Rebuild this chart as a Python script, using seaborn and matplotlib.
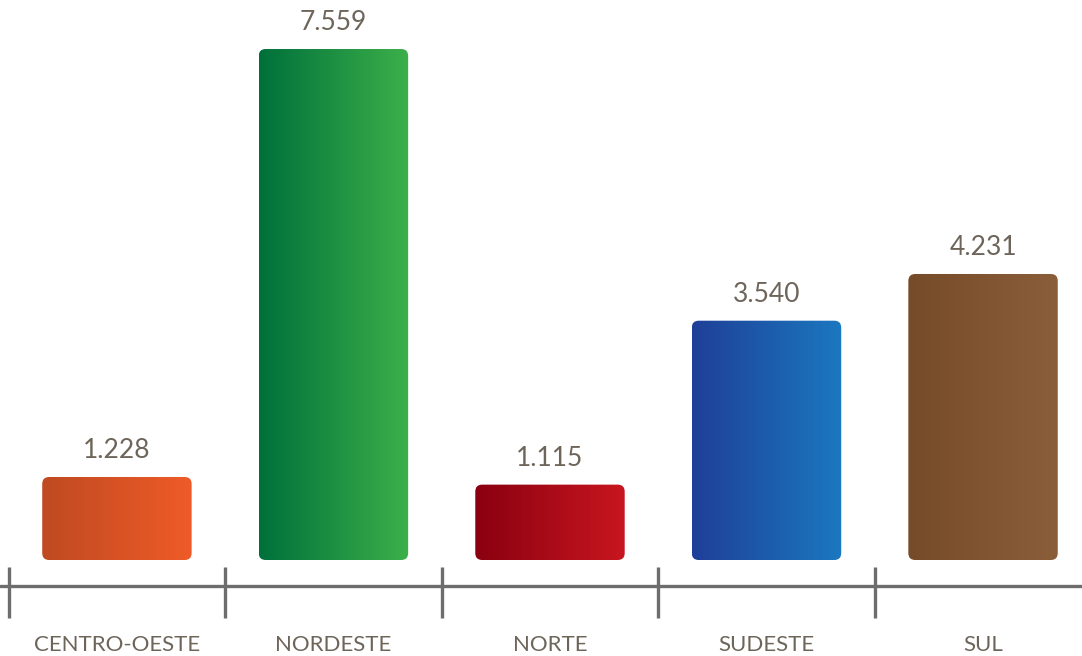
import numpy as np
import pandas as pd
import matplotlib
matplotlib.use("Agg")
import matplotlib.pyplot as plt
from matplotlib.colors import LinearSegmentedColormap
from matplotlib.patches import FancyBboxPatch
import seaborn as sns

sns.set_theme(style="white")
plt.rcParams['font.family'] = ['Lato', 'DejaVu Sans']

# data
regioes = ["CENTRO-OESTE", "NORDESTE", "NORTE", "SUDESTE", "SUL"]
valores = [1228, 7559, 1115, 3540, 4231]
# gradient colours (left -> right) for each bar
cor_ini = ["#bf4a21", "#00703b", "#8a0010", "#1f3f98", "#764b29"]
cor_fim = ["#ef5b28", "#3cb04a", "#c8161f", "#1b78c0", "#8b5e3a"]

txt_cor = "#6e655a"
eixo_cor = "#6d6d6d"

df = pd.DataFrame({"regiao": regioes, "valor": valores})

fig = plt.figure(figsize=(10.82, 6.56), dpi=100)
ax = fig.add_axes([0, 0, 1, 1])

sns.barplot(data=df, x="regiao", y="valor", order=regioes, width=0.69,
            color="white", ax=ax)

ax.set_xlim(-0.54, 4.457)
ax.set_ylim(-1420, 8284)
ax.axis("off")

# replace flat bars by rounded gradient bars
# 1 x unit ~ 216.5 px, 1 y unit ~ 0.0676 px -> corner radius ~7 px
grad = np.linspace(0, 1, 256).reshape(1, -1)
for i, p in enumerate(ax.patches):
    x0, y0 = p.get_x(), p.get_y()
    w, h = p.get_width(), p.get_height()
    p.set_visible(False)
    box = FancyBboxPatch((x0, y0), w, h,
                         boxstyle="round,pad=0,rounding_size=0.032",
                         mutation_aspect=216.5 / 0.0676,
                         facecolor="none", edgecolor="none")
    ax.add_patch(box)
    cmap = LinearSegmentedColormap.from_list("g%d" % i, [cor_ini[i], cor_fim[i]])
    im = ax.imshow(grad, cmap=cmap, aspect="auto",
                   extent=(x0, x0 + w, y0, y0 + h), zorder=2)
    im.set_clip_path(box)

# value labels with dot as thousands separator
rotulos = ["{:,}".format(v).replace(",", ".") for v in valores]
ax.bar_label(ax.containers[0], labels=rotulos, padding=10,
             fontsize=19, color=txt_cor)

# axis line with tick marks between categories
ax.axhline(-385, color=eixo_cor, lw=2.4, zorder=1)
ax.vlines(np.arange(len(regioes)) - 0.5, -858, -104, color=eixo_cor, lw=2.4)

for i, r in enumerate(regioes):
    ax.text(i, -1257, r, ha="center", va="center", fontsize=16, color=txt_cor)

ax.set_xlim(-0.54, 4.457)
ax.set_ylim(-1420, 8284)

fig.savefig("out.png", dpi=100)
